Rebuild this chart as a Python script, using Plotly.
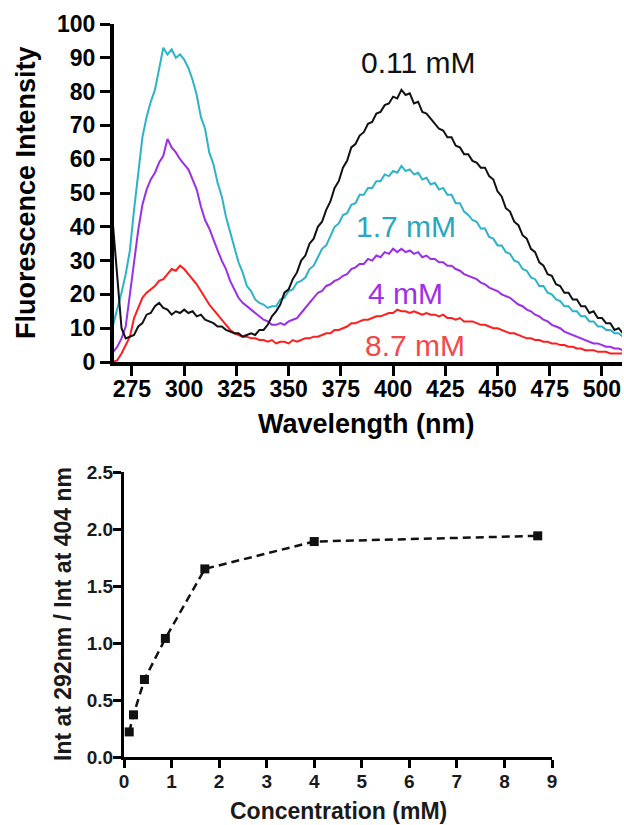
import plotly.graph_objects as go

# ---------------- Data: top panel (fluorescence spectra) ----------------
wavelength = [266, 268, 270, 272, 274, 276, 278, 280, 282, 284,
              286, 288, 290, 292, 294, 296, 298, 300, 302, 304,
              306, 308, 310, 312, 314, 316, 318, 320, 322, 324,
              326, 328, 330, 332, 334, 336, 338, 340, 342, 344,
              346, 348, 350, 352, 354, 356, 358, 360, 362, 364,
              366, 368, 370, 372, 374, 376, 378, 380, 382, 384,
              386, 388, 390, 392, 394, 396, 398, 400, 402, 404,
              406, 408, 410, 412, 414, 416, 418, 420, 422, 424,
              426, 428, 430, 432, 434, 436, 438, 440, 442, 444,
              446, 448, 450, 452, 454, 456, 458, 460, 462, 464,
              466, 468, 470, 472, 474, 476, 478, 480, 482, 484,
              486, 488, 490, 492, 494, 496, 498, 500, 502, 504,
              506, 508, 510]

int_011 = [40, 25, 10, 7, 7.5, 8, 10.5, 11.5, 14, 14.5,
           16.5, 17.5, 16, 15.5, 14, 15, 14.5, 15.5, 14.5, 15,
           13.5, 14, 12.5, 12, 11.5, 10.5, 10.5, 9.5, 9, 8.5,
           8.5, 7.5, 8, 8.5, 8, 9.5, 9.5, 11, 13.5, 15,
           17, 20.5, 21.5, 24.5, 26.5, 30, 31.5, 35, 36.5, 40,
           41.5, 45, 47.5, 51.5, 53.5, 57.5, 59.5, 63.5, 64.5, 67,
           68, 70.5, 71, 73.5, 74, 76, 76.5, 78.5, 78, 80.5,
           79, 79.5, 76.5, 77, 74, 73.5, 72, 70.5, 69, 68.5,
           66.5, 66.5, 64, 63.5, 61.5, 61.5, 59.5, 59, 57.5, 57.5,
           55, 54, 50.5, 49, 45.5, 44.5, 41.5, 40.5, 37.5, 36.5,
           33.5, 32.5, 29.5, 28.5, 26, 25.5, 23, 22.5, 20.5, 20.5,
           18.5, 18.5, 16.5, 16.5, 14.5, 15, 13, 13, 11.5, 11.5,
           9.5, 10, 8.5]

int_17 = [11, 15.5, 20.5, 26, 33, 45, 56, 66.5, 72.5, 77,
          80.5, 87, 93, 91, 92.5, 90, 91, 89.5, 87, 83.5,
          79, 72.5, 69, 62, 58.5, 53, 49, 43, 38.5, 34,
          29.5, 26.5, 22.5, 21, 18.5, 17.5, 17, 16, 16.5, 16.5,
          18.5, 19, 21, 21.5, 23.5, 24, 25, 27.5, 28.5, 31,
          33.5, 34.5, 37.5, 40, 41, 43.5, 44, 46.5, 47, 49.5,
          49.5, 51.5, 51.5, 53.5, 53.5, 55.5, 55, 56.5, 56, 58,
          56.5, 57, 55.5, 56, 54, 54.5, 52.5, 53, 51, 51.5,
          49.5, 49.5, 47, 47, 44.5, 43.5, 42, 41.5, 39.5, 39.5,
          37, 36.5, 34.5, 34.5, 32.5, 32, 30, 29.5, 27.5, 27,
          25, 24.5, 22.5, 22.5, 20.5, 20, 18.5, 18, 16.5, 16.5,
          15, 15, 13.5, 13.5, 12, 12, 10.5, 10.5, 9.5, 9.5,
          8.5, 8.5, 7.5]

int_4 = [3, 4.5, 7, 10.5, 20, 30, 39, 46.5, 51, 54,
         56, 59, 61, 66, 63.5, 62, 60, 58.5, 57, 54,
         51, 46, 42, 39.5, 36, 33, 30, 27.5, 24, 21.5,
         19, 17.5, 16.5, 15.5, 14.5, 13.5, 12.5, 12, 11, 11,
         11.5, 11, 12, 12.5, 13, 14.5, 16, 17.5, 19, 20.5,
         21, 22.5, 23, 24, 24.5, 25.5, 26, 27.5, 28, 29,
         29, 30.5, 30, 31.5, 31, 32.5, 32, 33.5, 32.5, 33.5,
         32.5, 33, 32, 32.5, 31, 31.5, 30.5, 30.5, 29.5, 29.5,
         28.5, 28.5, 27.5, 27, 26, 25.5, 25, 24.5, 23.5, 23,
         22, 21.5, 21, 20, 19.5, 19, 18, 17, 16.5, 15.5,
         15, 14, 13.5, 12.5, 12, 11, 10.5, 10, 9, 8.5,
         8, 7.5, 7, 6.5, 6, 5.5, 5.5, 5, 4.5, 4.5,
         4, 4, 3.5]

int_87 = [0, 0.5, 2.5, 5, 7.5, 13, 16, 19, 20.5, 21.5,
          22.5, 24, 24.5, 26, 27.5, 27, 28.5, 27.5, 26, 24.5,
          23, 21, 19, 17, 15.5, 14, 12.5, 11, 9.5, 8.5,
          8, 7.5, 7.5, 7, 7, 6.5, 6.5, 6, 6.5, 5.5,
          6, 6, 5.5, 6.5, 6, 6.5, 7, 7, 7.5, 7.5,
          8, 8.5, 8.5, 9.5, 9.5, 10, 10.5, 11.5, 11.5, 12,
          12.5, 12.5, 13, 13.5, 13.5, 14, 14.5, 14.5, 15.5, 15,
          15, 14.5, 15, 14.5, 14, 14.5, 14, 14, 13.5, 14,
          13, 13, 12.5, 13, 12, 12, 12, 11.5, 11, 11,
          10.5, 10, 10, 9.5, 9, 8.5, 8.5, 8, 7.5, 7,
          7, 6.5, 6.5, 6, 6, 5.5, 5.5, 5, 5, 4.5,
          4.5, 4, 4, 3.5, 3.5, 3.5, 3, 3, 3, 2.5,
          2.5, 2.5, 2.5]

spectrum_labels = ["8.7 mM", "4 mM", "1.7 mM", "0.11 mM"]

# ---------------- Data: bottom panel (intensity ratio) ----------------
concentration = [0.11, 0.2, 0.43, 0.87, 1.7, 4.0, 8.7]
ratio = [0.22, 0.37, 0.68, 1.04, 1.65, 1.89, 1.94]

top_xticks = [275, 300, 325, 350, 375, 400, 425, 450, 475, 500]
top_yticks = [0, 10, 20, 30, 40, 50, 60, 70, 80, 90, 100]
bot_xticks = [0, 1, 2, 3, 4, 5, 6, 7, 8, 9]
bot_yticks = [0.0, 0.5, 1.0, 1.5, 2.0, 2.5]

# ---------------- Styling ----------------
W, H = 624, 825
FONT = "Arial, Liberation Sans, sans-serif"
c_black = "#111111"
c_cyan = "#2BB3C9"
c_purple = "#9B2FE6"
c_red = "#FF1E1E"

fig = go.Figure()

series = [(int_87, c_red), (int_4, c_purple), (int_17, c_cyan), (int_011, c_black)]
for ys, col in series:
    fig.add_trace(go.Scatter(x=wavelength, y=ys, mode="lines",
                             line=dict(color=col, width=2),
                             xaxis="x", yaxis="y", showlegend=False))

fig.add_trace(go.Scatter(x=concentration, y=ratio, mode="lines+markers",
                         line=dict(color="#111111", width=2.5, dash="8px,5px"),
                         marker=dict(symbol="square", size=9, color="#111111"),
                         xaxis="x2", yaxis="y2", showlegend=False))

def px_x(p):
    return p / W

def px_y(p):
    return 1 - p / H

axis_common = dict(showgrid=False, zeroline=False, showline=True, linecolor="black",
                   ticks="outside", tickcolor="black", automargin=False)

fig.update_layout(
    width=W, height=H,
    margin=dict(l=0, r=0, t=0, b=0),
    paper_bgcolor="white", plot_bgcolor="white",
    font=dict(family=FONT, color="black"),
    xaxis=dict(domain=[px_x(114), px_x(622)], range=[266.4, 509.6], anchor="y",
               tickvals=top_xticks, linewidth=4, tickwidth=3, ticklen=10,
               ticklabelstandoff=-7,
               tickfont=dict(size=23, family=FONT, weight="bold"), **axis_common),
    yaxis=dict(domain=[px_y(362), px_y(24)], range=[0, 100], anchor="x",
               tickvals=top_yticks, linewidth=4, tickwidth=3, ticklen=10,
               tickfont=dict(size=23, family=FONT, weight="bold"), **axis_common),
    xaxis2=dict(domain=[px_x(124), px_x(552)], range=[0, 9], anchor="y2",
                tickvals=bot_xticks, linewidth=3, tickwidth=3, ticklen=8,
                ticklabelstandoff=-3,
                tickfont=dict(size=19, family=FONT, weight="bold", color="#1a1a1a"),
                **axis_common),
    yaxis2=dict(domain=[px_y(757), px_y(472)], range=[0, 2.5], anchor="x2",
                tickvals=bot_yticks, tickformat=".1f", linewidth=3, tickwidth=3, ticklen=8,
                ticklabelstandoff=-4,
                tickfont=dict(size=19, family=FONT, weight="bold", color="#1a1a1a"),
                **axis_common),
)

annotations = [
    dict(text="Fluorescence Intensity", x=px_x(26), y=px_y(193), textangle=-90,
         font=dict(size=27, weight="bold")),
    dict(text="Wavelength (nm)", x=px_x(366), y=px_y(424),
         font=dict(size=27, weight="bold")),
    dict(text="Int at 292nm / Int at 404 nm", x=px_x(63), y=px_y(614), textangle=-90,
         font=dict(size=23, weight="bold", color="#1a1a1a")),
    dict(text="Concentration (mM)", x=px_x(338), y=px_y(811),
         font=dict(size=23, weight="bold", color="#1a1a1a")),
]
for a in annotations:
    a.update(xref="paper", yref="paper", showarrow=False, xanchor="center", yanchor="middle")
    a["font"]["family"] = FONT
    a["font"].setdefault("color", "black")
    fig.add_annotation(**a)

# curve labels in data coordinates of the top panel
label_pos = [(410.5, 5, "#F24A4A"), (406, 20.4, "#A030E8"), (406, 40, "#2AA7BE"), (412, 88.5, "#111111")]
for txt, (lx, ly, col) in zip(spectrum_labels, label_pos):
    fig.add_annotation(text=txt, x=lx, y=ly, xref="x", yref="y", showarrow=False,
                       xanchor="center", yanchor="middle",
                       font=dict(size=30, family=FONT, color=col))

fig.write_html("out.html", config={"displayModeBar": False},
               post_script="document.body.style.margin='0';")
